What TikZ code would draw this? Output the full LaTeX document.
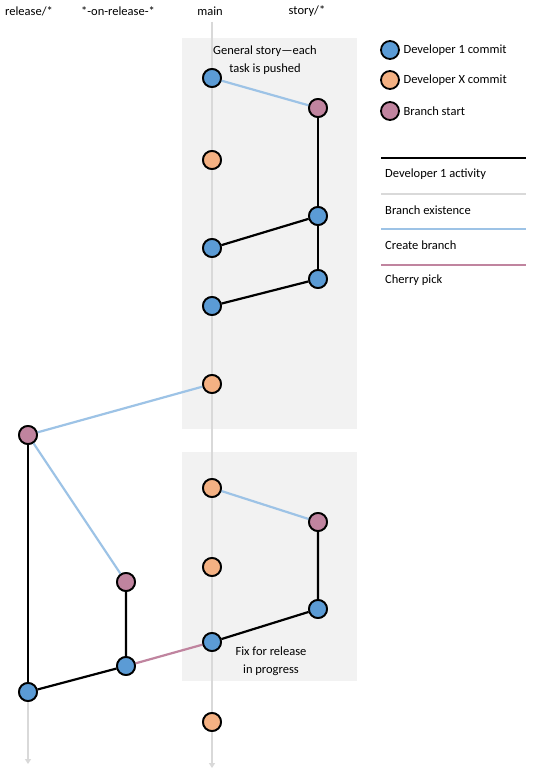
\documentclass[tikz,border=0pt]{standalone}
\usepackage{fontspec}
\setmainfont{Carlito}
\usetikzlibrary{arrows.meta}
\definecolor{devone}{HTML}{5B9BD5}
\definecolor{devx}{HTML}{F4B183}
\definecolor{bstart}{HTML}{C0849F}
\definecolor{lblue}{HTML}{9DC3E6}
\definecolor{lgray}{HTML}{D9D9D9}
\definecolor{boxbg}{HTML}{F2F2F2}
\definecolor{cherry}{HTML}{C0849F}
\tikzset{
  commit/.style={circle,draw=black,line width=1.8pt,minimum size=18pt,inner sep=0pt},
  dev1/.style={commit,fill=devone},
  devX/.style={commit,fill=devx},
  bst/.style={commit,fill=bstart},
  act/.style={line width=2.2pt,black},
  exist/.style={line width=2.2pt,lgray},
  create/.style={line width=2.2pt,lblue},
  pick/.style={line width=2.2pt,cherry},
  lbl/.style={font=\fontsize{12.5}{14}\selectfont,inner sep=0pt},
  note/.style={font=\fontsize{12.5}{18}\selectfont,align=center,inner sep=0pt},
  tip/.style={-{Triangle[width=6pt,length=5pt]}}
}
\begin{document}
\begin{tikzpicture}[x=1pt,y=-1pt]
\useasboundingbox[fill=white] (0,0) rectangle (533,775);
% background boxes
\fill[boxbg] (182,38) rectangle (357,429);
\fill[boxbg] (182,452) rectangle (357,681);
% headers
\node[lbl] (hrel) at (29,11) {release/*};
\node[lbl] (hon) at (118,11) {*-on-release-*};
\node[lbl] (hmain) at (210,11) {main};
\node[lbl] (hstory) at (307,11) {story/*};
% coordinates for lines
\coordinate (mtop) at (212,22);
\coordinate (mend) at (212,768);
\coordinate (rend) at (28,764);
% nodes
\node[dev1] (m1) at (212,78) {};
\node[devX] (m2) at (212,160) {};
\node[dev1] (m3) at (212,248) {};
\node[dev1] (m4) at (212,306) {};
\node[devX] (m5) at (212,384) {};
\node[devX] (m6) at (212,488) {};
\node[devX] (m7) at (212,567) {};
\node[dev1] (m8) at (212,642) {};
\node[devX] (m9) at (212,722) {};
\node[bst] (s1) at (318,108) {};
\node[dev1] (s2) at (318,216) {};
\node[dev1] (s3) at (318,279) {};
\node[bst] (s4) at (318,522) {};
\node[dev1] (s5) at (318,609) {};
\node[bst] (r1) at (28,435) {};
\node[dev1] (r2) at (28,692) {};
\node[bst] (o1) at (126,582) {};
\node[dev1] (o2) at (126,666) {};
% lines
\draw[exist,tip] (mtop) -- (mend);
\draw[exist,tip] (r2) -- (rend);
\draw[create] (m1) -- (s1);
\draw[create] (m5) -- (r1);
\draw[create] (r1) -- (o1);
\draw[create] (m6) -- (s4);
\draw[act] (s1) -- (s2) -- (s3);
\draw[act] (s2) -- (m3);
\draw[act] (s3) -- (m4);
\draw[act] (s4) -- (s5) -- (m8);
\draw[act] (r1) -- (r2);
\draw[act] (o1) -- (o2) -- (r2);
\draw[pick] (o2) -- (m8);
% redraw nodes on top
\foreach \n/\s in {m1/dev1,m2/devX,m3/dev1,m4/dev1,m5/devX,m6/devX,m7/devX,m8/dev1,m9/devX,s1/bst,s2/dev1,s3/dev1,s4/bst,s5/dev1,r1/bst,r2/dev1,o1/bst,o2/dev1}
  \node[\s] at (\n) {};
% notes
\node[note] (n1) at (265,60) {General story—each\\task is pushed};
\node[note] (n2) at (271,661) {Fix for release\\in progress};
% legend
\node[dev1] (k1) at (390,50) {};
\node[devX] (k2) at (390,80) {};
\node[bst] (k3) at (390,111) {};
\node[lbl,anchor=west] (t1) at ([xshift=3.5pt]k1.east) {Developer 1 commit};
\node[lbl,anchor=west] (t2) at ([xshift=3.5pt]k2.east) {Developer X commit};
\node[lbl,anchor=west] (t3) at ([xshift=3.5pt]k3.east) {Branch start};
\coordinate (a1) at (381,158); \coordinate (a2) at (526,158);
\coordinate (b1) at (381,194); \coordinate (b2) at (526,194);
\coordinate (c1) at (381,229); \coordinate (c2) at (526,229);
\coordinate (d1) at (381,265); \coordinate (d2) at (526,265);
\draw[act] (a1) -- (a2);
\draw[exist] (b1) -- (b2);
\draw[create] (c1) -- (c2);
\draw[pick] (d1) -- (d2);
\node[lbl,anchor=west] (u1) at (385,174) {Developer 1 activity};
\node[lbl,anchor=west] (u2) at (385,210) {Branch existence};
\node[lbl,anchor=west] (u3) at (385,245) {Create branch};
\node[lbl,anchor=west] (u4) at (385,280) {Cherry pick};
\end{tikzpicture}
\end{document}
